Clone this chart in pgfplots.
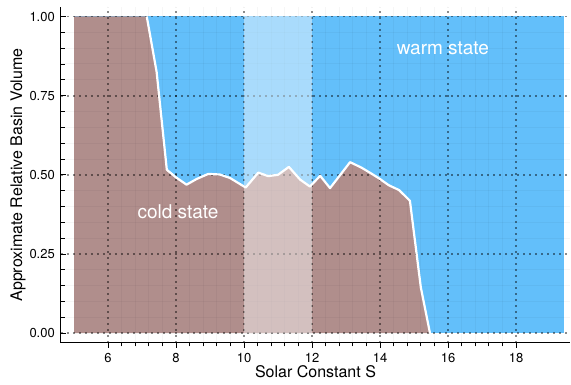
\documentclass[border=0pt]{standalone}
\usepackage{pgfplots}
\pgfplotsset{compat=1.18}
\usepackage{fontspec}
\setmainfont{TeX Gyre Heros}
\definecolor{cbrown}{RGB}{176,142,140}
\definecolor{cblue}{RGB}{99,191,250}
\begin{document}
\begin{tikzpicture}
\begin{axis}[
  at={(0pt,0pt)}, anchor=south west,
  scale only axis, width=509pt, height=336pt,
  xmin=4.6176, xmax=19.588, ymin=-0.031, ymax=1.03,
  set layers,
  axis x line=bottom, axis y line=left,
  axis line style={-, line width=1pt, black},
  xtick={6,8,...,18}, ytick={0,0.25,0.5,0.75,1},
  minor x tick num=4, minor y tick num=4,
  xtick align=outside, ytick align=inside,
  major tick length=5pt, minor tick length=3.5pt,
  major tick style={line width=1pt, black},
  minor tick style={line width=0.8pt, black},
  grid=both,
  major grid style={black, opacity=0.45, line width=1.8pt, dash pattern=on 1.8pt off 4.2pt},
  minor grid style={black, opacity=0.035, line width=1pt},
  /pgf/number format/assume math mode=true,
  ticklabel style={font=\fontsize{13}{15}\selectfont},
  yticklabel style={/pgf/number format/fixed, /pgf/number format/fixed zerofill, /pgf/number format/precision=2, anchor=east, inner sep=0pt, xshift=-6pt},
  xticklabel style={anchor=north, inner sep=0pt, yshift=-5pt},
  every axis y label/.style={at={(rel axis cs:0,0.5)}, xshift=-43pt, rotate=90, anchor=center, font=\fontsize{16}{19}\selectfont},
  every axis x label/.style={at={(rel axis cs:0.5,0)}, yshift=-28.5pt, anchor=center, font=\fontsize{16}{19}\selectfont},
  xlabel={Solar Constant S},
  ylabel={Approximate Relative Basin Volume},
]
\addplot[fill=cblue, draw=none, on layer=axis background] coordinates {(5,0)(19.4,0)(19.4,1)(5,1)} -- cycle;
\addplot[fill=cbrown, draw=none, on layer=axis background] coordinates {
(5,0)(5,1)(7.14,1)(7.43,0.825)(7.73,0.516)(8.0,0.492)(8.31,0.469)(8.61,0.487)(8.95,0.503)(9.29,0.501)(9.59,0.49)(9.88,0.471)(10.05,0.46)(10.42,0.507)(10.71,0.496)(11.0,0.5)(11.32,0.525)(11.65,0.485)(11.94,0.463)(12.24,0.497)(12.53,0.458)(13.12,0.54)(13.45,0.523)(13.7,0.507)(13.97,0.489)(14.26,0.467)(14.56,0.452)(14.88,0.418)(15.2,0.145)(15.47,0)
} -- cycle;
\addplot[white, line width=2.2pt, line join=round] coordinates {
(7.14,1)(7.43,0.825)(7.73,0.516)(8.0,0.492)(8.31,0.469)(8.61,0.487)(8.95,0.503)(9.29,0.501)(9.59,0.49)(9.88,0.471)(10.05,0.46)(10.42,0.507)(10.71,0.496)(11.0,0.5)(11.32,0.525)(11.65,0.485)(11.94,0.463)(12.24,0.497)(12.53,0.458)(13.12,0.54)(13.45,0.523)(13.7,0.507)(13.97,0.489)(14.26,0.467)(14.56,0.452)(14.88,0.418)(15.2,0.145)(15.47,0)
};
\addplot[fill=white, fill opacity=0.45, draw=none] coordinates {(10,0)(12,0)(12,1)(10,1)} -- cycle;
\node[text=white, font=\fontsize{19}{22}\selectfont] at (axis cs:15.85,0.9) {warm state};
\node[text=white, font=\fontsize{19}{22}\selectfont] at (axis cs:8.06,0.383) {cold state};
\end{axis}
\path (-61pt,-42pt) rectangle (510pt,343pt);
\end{tikzpicture}
\end{document}
